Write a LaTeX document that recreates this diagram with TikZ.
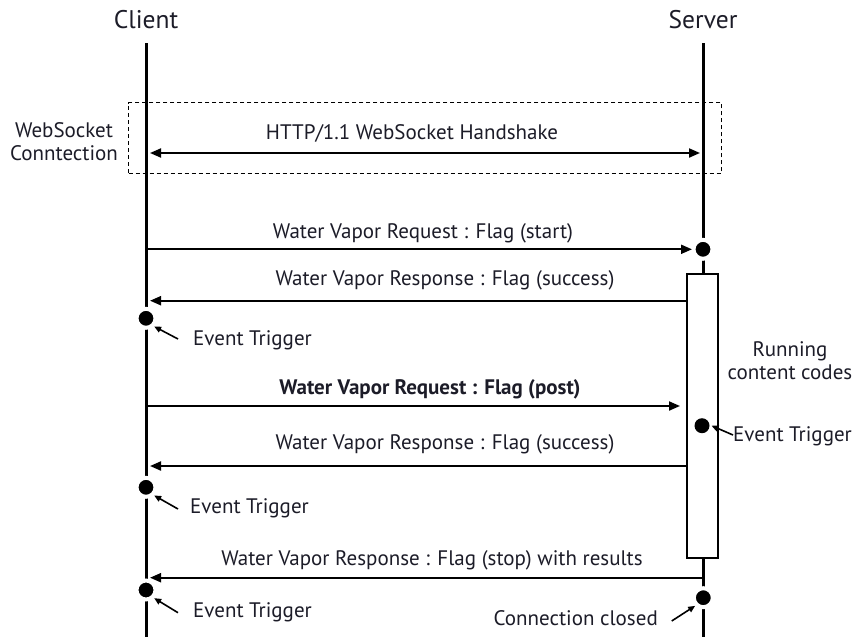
\documentclass[tikz,border=0pt]{standalone}
\usepackage{fontspec}
\setmainfont{PT Sans}
\usetikzlibrary{arrows.meta}
\definecolor{ink}{HTML}{000000}
\definecolor{txt}{HTML}{1C1C28}
\tikzset{
  every node/.style={font=\fontsize{21}{23}\selectfont,text=txt,inner sep=0pt},
  actor/.style={font=\fontsize{25.5}{30}\selectfont},
  lifeline/.style={line width=3pt,draw=ink},
  msg/.style={-{Triangle[length=11pt,width=9pt]},line width=2pt,draw=ink},
  pointer/.style={-{Triangle[length=7pt,width=6pt]},line width=1.6pt,draw=ink},
  event/.style={circle,fill=ink,draw=white,line width=4pt,minimum size=19pt},
  runbox/.style={draw=ink,line width=2pt,fill=white},
  frame/.style={draw=ink,dash pattern=on 4pt off 3pt,line width=.9pt},
}

\begin{document}
\begin{tikzpicture}[x=1pt,y=-1pt]
\path[use as bounding box,fill=white] (0,0) rectangle (857,637);
% lifelines
\node[actor] (client) at (146,20) {Client};
\node[actor] (server) at (703,20) {Server};
\coordinate (cTop) at (146,43);
\coordinate (cEnd) at (146,637);
\coordinate (sTop) at (703,43);
\coordinate (sEnd) at (703,637);
\draw[lifeline] (cTop)--(cEnd);
\draw[lifeline] (sTop)--(sEnd);
% handshake
\node[frame,minimum width=593pt,minimum height=70.6pt] (ws) at (425.2,138) {};
\node[align=center] (wslabel) at (64,142) {WebSocket\\Conntection};
\node (hs) at (412,133) {HTTP/1.1 WebSocket Handshake};
\coordinate (hsC) at (150,153);
\coordinate (hsS) at (700,153);
\draw[msg,{Triangle[length=11pt,width=9pt]}-{Triangle[length=11pt,width=9pt]}] (hsC)--(hsS);
% server side: content codes
\node[runbox,minimum width=30.4pt,minimum height=283.7pt] (run) at (702.5,415.85) {};
\node[align=center] (runlabel) at (790,361) {Running\\content codes};
\node[event] (start) at (703,249.3) {};
\node[event,draw=none,minimum size=15pt] (trigS) at (702,425.7) {};
\node[event] (closed) at (703.3,597.7) {};
\node[anchor=west] (trigStxt) at (733,436) {Event Trigger};
\node[anchor=east] (closedtxt) at (658,618) {Connection closed};
\coordinate (trigSp) at (733,435);
\coordinate (closedp) at (671.7,621);
\draw[pointer] (trigSp)--(trigS.east);
\draw[pointer] (closedp)--(closed.south west);
% client side: event triggers
\node[event] (trigA) at (146,318.3) {};
\node[event] (trigB) at (146,487.3) {};
\node[event] (trigC) at (146,590) {};
\node[anchor=west] (trigAtxt) at (193,340) {Event Trigger};
\node[anchor=west] (trigBtxt) at (190,508) {Event Trigger};
\node[anchor=west] (trigCtxt) at (193,612.7) {Event Trigger};
\coordinate (trigAp) at (178,339);
\coordinate (trigBp) at (178,509);
\coordinate (trigCp) at (178,612.7);
\draw[pointer] (trigAp)--(trigA.south east);
\draw[pointer] (trigBp)--(trigB.south east);
\draw[pointer] (trigCp)--(trigC.south east);
% messages
\coordinate (m1C) at (146,249.3);
\coordinate (m1S) at (692,249.3);
\coordinate (m2S) at (687.3,300.7);
\coordinate (m2C) at (150,300.7);
\coordinate (m3C) at (146,406);
\coordinate (m3S) at (680,406);
\coordinate (m4S) at (687.3,466);
\coordinate (m4C) at (150,466);
\coordinate (m5S) at (703,577.7);
\coordinate (m5C) at (150,577.7);
\node (m1) at (423,233) {Water Vapor Request : Flag (start)};
\node (m2) at (445,280) {Water Vapor Response : Flag (success)};
\node[font=\bfseries\fontsize{21}{23}\selectfont] (m3) at (430,389) {Water Vapor Request : Flag (post)};
\node (m4) at (445,444) {Water Vapor Response : Flag (success)};
\node (m5) at (432,560) {Water Vapor Response : Flag (stop) with results};
\draw[msg] (m1C)--(m1S);
\draw[msg] (m2S)--(m2C);
\draw[msg] (m3C)--(m3S);
\draw[msg] (m4S)--(m4C);
\draw[msg] (m5S)--(m5C);
\end{tikzpicture}
\end{document}
